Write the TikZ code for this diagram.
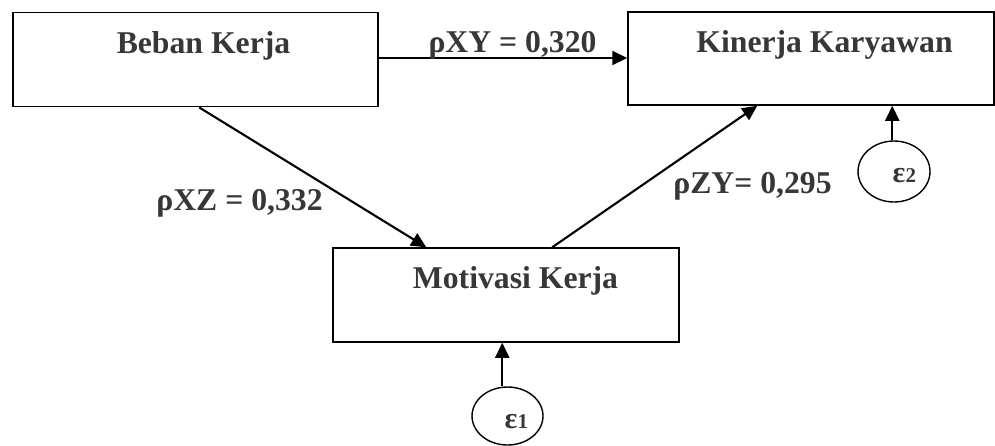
\documentclass[tikz,border=0pt]{standalone}
\usepackage{fontspec}
\setmainfont{Liberation Serif}
\usetikzlibrary{arrows.meta,shapes.geometric}
\definecolor{txt}{RGB}{55,55,55}
\begin{document}
\begin{tikzpicture}[x=1pt,y=-1pt,
  boxnode/.style={draw=black,line width=1.5pt,rectangle,inner sep=0pt},
  errnode/.style={draw=black,line width=1.4pt,ellipse,inner sep=0pt},
  lbl/.style={anchor=base,inner sep=0pt,text=txt,font=\fontsize{31.7}{32}\bfseries\selectfont},
  arr/.style={line width=2.1pt,-{Triangle[length=15pt,width=14pt]}}
]
\useasboundingbox (0,0) rectangle (995,445);
% boxes
\node[boxnode,minimum width=365pt,minimum height=94pt] (bk) at (195.5,59.7) {};
\node[boxnode,minimum width=366pt,minimum height=93pt] (kk) at (811,58.5) {};
\node[boxnode,minimum width=346pt,minimum height=94pt] (mk) at (506,295) {};
\node[lbl] (tbk) at (203.5,53) {Beban Kerja};
\node[lbl] (tkk) at (824.5,52) {Kinerja Karyawan};
\node[lbl] (tmk) at (515.5,288) {Motivasi Kerja};
% error terms
\node[errnode,minimum width=71pt,minimum height=58pt] (e1) at (507.5,416) {};
\node[errnode,minimum width=72pt,minimum height=61pt] (e2) at (894,171.5) {};
\node[anchor=base west,inner sep=0pt,text=txt,font=\bfseries] (te1) at (504.5,428)
  {\fontsize{30}{30}\selectfont ε\fontsize{21}{21}\selectfont 1};
\node[anchor=base west,inner sep=0pt,text=txt,font=\bfseries] (te2) at (892.5,182)
  {\fontsize{30}{30}\selectfont ε\fontsize{21}{21}\selectfont 2};
% connector end points
\coordinate (bkR) at (bk.east |- 0,58);
\coordinate (kkL) at (kk.west |- 0,58);
\coordinate (bkB) at ([xshift=187pt]bk.south west);
\coordinate (mkT1) at ([xshift=94pt]mk.north west);
\coordinate (mkT2) at ([xshift=220pt]mk.north west);
\coordinate (kkB1) at ([xshift=130pt]kk.south west);
\coordinate (kkB2) at ([xshift=265pt]kk.south west);
\coordinate (mkB) at ([xshift=170pt]mk.south west);
% connectors
\draw[arr] (bkR) -- (kkL);
\draw[arr] (bkB) -- (mkT1);
\draw[arr] (mkT2) -- (kkB1);
\draw[arr] (e1.north -| mkB) -- (mkB);
\draw[arr] (e2.north -| kkB2) -- (kkB2);
% path labels
\node[lbl] (lxy) at (512.5,52) {ρXY = 0,320};
\node[lbl] (lxz) at (239.5,210) {ρXZ = 0,332};
\node[lbl] (lzy) at (752.5,193) {ρZY= 0,295};
\end{tikzpicture}
\end{document}
